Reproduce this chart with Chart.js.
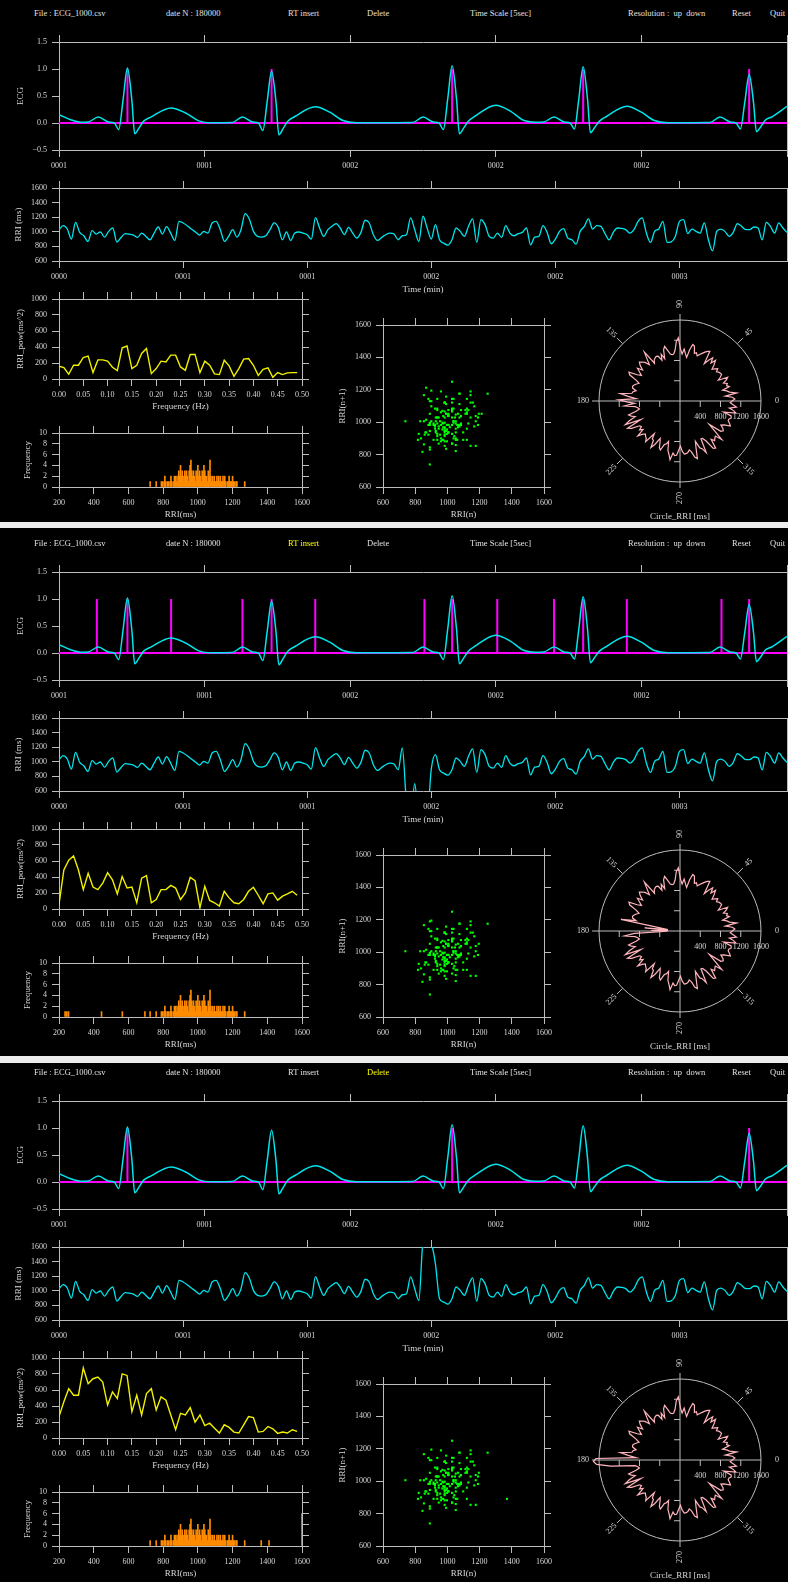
<!DOCTYPE html>
<html>
<head>
<meta charset="utf-8">
<script src="https://cdn.jsdelivr.net/npm/chart.js@4.4.1/dist/chart.umd.min.js"></script>
<style>
html, body { margin: 0; padding: 0; background: #000; }
body { width: 788px; height: 1582px; position: relative; overflow: hidden; font-family: 'Liberation Serif', serif; }
canvas { position: absolute; }
.band { position: absolute; left: 0; width: 788px; background: #ececec; }
.hdr { position: absolute; font-size: 8.5px; line-height: 10px; color: #e0e0e0; white-space: pre; }
</style>
</head>
<body>
<div class="band" style="top:522px;height:6px"></div>
<div class="band" style="top:1056px;height:7px"></div>
<script>
// ---- values ----
var headerItems = [['File : ECG_1000.csv', 34], ['date N : 180000', 166], ['RT insert', 288], ['Delete', 367],
  ['Time Scale [5sec]', 470], ['Resolution :  up  down', 628], ['Reset', 732], ['Quit', 770]];

var ecgTimeLabels = ['0001', '0001', '0002', '0002', '0002', ''];
var rriTimeLabels = ['0000', '0001', '0001', '0002', '0002', '0003'];

// ECG trace, 5 sec window (sec, mV)
var ecgTime = [0, 0.08, 0.15, 0.20, 0.27, 0.34, 0.38, 0.41, 0.44, 0.47, 0.50, 0.52, 0.55, 0.58, 0.63, 0.77, 0.87, 0.96, 1.05,
  1.19, 1.26, 1.33, 1.37, 1.40, 1.43, 1.46, 1.49, 1.51, 1.54, 1.57, 1.62, 1.76, 1.86, 1.95, 2.04,
  2.43, 2.50, 2.57, 2.61, 2.64, 2.67, 2.70, 2.73, 2.75, 2.78, 2.81, 2.86, 3.00, 3.10, 3.19, 3.27,
  3.33, 3.40, 3.47, 3.51, 3.54, 3.57, 3.60, 3.63, 3.65, 3.68, 3.71, 3.76, 3.90, 4.00, 4.09, 4.18,
  4.47, 4.54, 4.61, 4.65, 4.68, 4.71, 4.74, 4.77, 4.79, 4.82, 4.85, 4.90, 5.00];
var ecgValue = [0.155, 0.06, 0.015, 0.02, 0.11, 0.02, 0, -0.12, 0.43, 1.02, 0.43, -0.2, -0.09, 0.03, 0.11, 0.28, 0.185, 0.04, 0.005,
  0.01, 0.11, 0.02, 0, -0.14, 0.40, 0.96, 0.40, -0.22, -0.1, 0.03, 0.12, 0.30, 0.2, 0.045, 0.005,
  0.01, 0.11, 0.02, 0, -0.12, 0.45, 1.06, 0.45, -0.2, -0.09, 0.03, 0.13, 0.33, 0.22, 0.05, 0.015,
  0.02, 0.11, 0.02, 0, -0.11, 0.44, 1.04, 0.44, -0.18, -0.08, 0.03, 0.12, 0.31, 0.2, 0.045, 0.005,
  0.01, 0.11, 0.02, 0, -0.11, 0.38, 0.90, 0.38, -0.16, -0.07, 0.05, 0.12, 0.31];

// R markers (sec)
var rPeaksOriginal = [0.47, 1.46, 2.70, 3.60, 4.74];
var rPeaksInserted = [0.26, 0.47, 0.77, 1.26, 1.46, 1.76, 2.51, 2.70, 3.01, 3.40, 3.60, 3.90, 4.55, 4.74];
var rPeaksDeleted = [0.47, 2.70, 4.74];

// RR intervals (ms), one per beat
var rriOriginal = [
  1029, 1084, 1038, 900, 1130, 992, 946, 868, 1015, 969,
  997, 928, 1006, 1052, 859, 923, 974, 969, 955, 923,
  983, 937, 891, 983, 1066, 969, 1070, 983, 882, 1144,
  1121, 1084, 1038, 997, 955, 1006, 983, 1121, 1144, 1029,
  868, 937, 1029, 928, 1029, 1250, 1176, 1006, 937, 928,
  946, 1029, 1121, 1061, 891, 997, 882, 983, 997,
  983, 960, 900, 1195, 1052, 937, 1029, 1075, 1112, 1052,
  960, 1061, 983, 914, 992, 1158, 1121, 960, 882, 923,
  960, 983, 969, 891, 946, 960, 1190, 1029, 868, 1213,
  1052, 900, 1098, 891, 845, 817, 891, 1052, 1006, 937,
  1075, 1176, 854, 1167, 1098, 937, 914, 983, 923, 1084,
  983, 946, 974, 992, 1052, 822, 928, 937, 1084,
  992, 836, 900, 1006, 1043, 914, 891, 831, 1006, 1075,
  1176, 1038, 1084, 1075, 974, 891, 992, 1052, 1047, 1029,
  983, 1029, 1144, 1190, 983, 854, 1006, 1038, 1144, 854,
  863, 937, 1144, 1167, 974, 1038, 1006, 983, 1121, 891,
  739, 1006, 1038, 1006, 937, 992, 1112, 1075, 1029, 1029,
  1066, 1052, 891, 1130, 1075, 983, 1121, 1052, 992];
var insertAt = 83, insertValues = [1190, 445, 240, 700, 235, 565, 250];
var deleteAt = 88, deleteValues = [1660, 1710, 1650, 1370];

// power spectrum, 0.00 .. 0.49 Hz every 0.01 Hz
var psdStep = 0.01;
var psdOriginal = [160, 143, 59, 172, 172, 269, 286, 80, 239, 239, 223, 147, 105, 390, 412, 130, 172, 319, 382, 67,
  130, 223, 214, 298, 298, 151, 109, 307, 307, 80, 223, 172, 63, 55, 235, 164, 34, 130, 248, 256,
  172, 46, 122, 139, 21, 80, 55, 76, 80, 80];
var psdInserted = [57, 488, 611, 664, 488, 242, 447, 275, 242, 324, 455, 365, 189, 406, 262, 275, 78, 385, 418, 78,
  119, 242, 242, 295, 262, 119, 201, 394, 353, 16, 283, 107, 78, 37, 221, 139, 78, 66, 119, 221,
  271, 172, 66, 189, 201, 111, 160, 189, 221, 172];
var psdDeleted = [267, 453, 617, 535, 535, 876, 679, 741, 761, 700, 412, 576, 494, 802, 782, 329, 535, 288, 555, 617,
  350, 514, 473, 288, 103, 309, 288, 379, 198, 288, 156, 185, 123, 62, 165, 132, 74, 62, 165, 267,
  255, 74, 82, 144, 115, 58, 74, 62, 103, 82];

// RRI histogram, 5 ms bins starting at 725 ms
var histStart = 725, histWidth = 5;
var histCounts = [1, 0, 0, 0, 0, 0, 0, 1, 0, 0,
  0, 0, 0, 1, 1, 0, 1, 2, 1, 0,
  1, 1, 0, 1, 2, 1, 0, 1, 2, 2,
  1, 2, 1, 3, 2, 4, 2, 3, 2, 1,
  3, 2, 3, 2, 1, 3, 4, 5, 3, 2,
  3, 2, 1, 3, 2, 4, 2, 3, 2, 1,
  3, 2, 4, 3, 2, 2, 1, 3, 2, 5,
  2, 1, 2, 1, 2, 1, 1, 2, 1, 2,
  1, 2, 1, 1, 2, 1, 2, 1, 0, 1,
  1, 2, 1, 1, 1, 2, 1, 1, 0, 1,
  1, 0, 0, 0, 0, 0, 0, 0, 0, 1];
var histExtraInserted = [[235, 1], [245, 1], [255, 1], [445, 1], [565, 1], [695, 1]];
var histExtraDeleted = [[1365, 1], [1410, 1], [1600, 6]];

var polarAngleLabels = [0, 45, 90, 135, 180, 225, 270, 315];
var polarRadialTicks = [400, 800, 1200, 1600];

var panelTops = [0, 530, 1059];

// ---- drawing ----
var GRID = '#bcbcbc', TXT = '#d8d8d8', FONT = 'Liberation Serif';
var CYAN = '#00e6ee', MAGENTA = '#ff00ff', YELLOW = '#f0f000', ORANGE = '#ff8c00', GREEN = '#00ff00', PINK = '#ffb4bc';

function patch(base, at, values) {
  var out = base.slice();
  values.forEach(function (v, i) { out[at + i] = v; });
  return out;
}

var panels = [
  { rri: rriOriginal, psd: psdOriginal, peaks: rPeaksOriginal, extra: [], hl: -1 },
  { rri: patch(rriOriginal, insertAt, insertValues), psd: psdInserted, peaks: rPeaksInserted, extra: histExtraInserted, hl: 2 },
  { rri: patch(rriOriginal, deleteAt, deleteValues), psd: psdDeleted, peaks: rPeaksDeleted, extra: histExtraDeleted, hl: 3 }
];

function addCanvas(left, top, w, h) {
  var c = document.createElement('canvas');
  c.width = w; c.height = h;
  c.style.left = left + 'px'; c.style.top = top + 'px';
  c.style.width = w + 'px'; c.style.height = h + 'px';
  document.body.appendChild(c);
  return c;
}

function header(top, hl) {
  headerItems.forEach(function (item, i) {
    var d = document.createElement('div');
    d.className = 'hdr';
    d.textContent = item[0];
    d.style.left = item[1] + 'px';
    d.style.top = (top + 8) + 'px';
    d.style.color = i === hl ? '#ffff00' : '#e0e0e0';
    document.body.appendChild(d);
  });
}

function axisTitle(text, pad) {
  return { display: !!text, text: text || '', color: TXT, font: { family: FONT, size: 9, lineHeight: 1.2 }, padding: pad };
}

function axis(pos, size, a, ttl) {
  var horiz = pos === 'top' || pos === 'bottom';
  var main = pos === 'bottom' || pos === 'left';
  return {
    type: 'linear', position: pos, min: a.min, max: a.max, offset: false,
    grid: { drawOnChartArea: false, drawTicks: true, tickLength: 7, color: GRID, offset: false },
    border: { display: true, color: GRID },
    ticks: { display: main, stepSize: a.step, includeBounds: false, autoSkip: false, maxRotation: 0,
      padding: horiz ? 4 : 5, color: TXT, font: { family: FONT, size: 8 }, callback: a.cb || function (v) { return String(v); } },
    title: ttl || { display: false },
    afterFit: function (s) { if (horiz) s.height = size; else s.width = size; }
  };
}

function cartesian(top, box, type, datasets, xa, ya) {
  var W = box.r - box.l + box.ml + box.mr, H = box.b - box.t + box.mt + box.mb;
  var left = box.l - box.ml;
  var cv = addCanvas(left, top + box.t - box.mt, W, H);
  var xt = axisTitle(xa.title, { top: 0, bottom: box.b + box.mb - (xa.titleAt || 0) - 5.4 });
  var yt = axisTitle(ya.title, { top: (ya.titleAt || 0) - left - 5.4, bottom: 0 });
  return new Chart(cv, {
    type: type,
    data: { datasets: datasets },
    options: {
      responsive: false, animation: false, devicePixelRatio: 1, events: [],
      plugins: { legend: { display: false }, tooltip: { enabled: false } },
      scales: {
        x: axis('bottom', box.mb, xa, xt),
        x2: axis('top', box.mt, xa),
        y: axis('left', box.ml, ya, yt),
        y2: axis('right', box.mr, ya)
      }
    }
  });
}

function line(points, color, width, mode) {
  return { data: points, showLine: true, borderColor: color, borderWidth: width, pointRadius: 0,
    cubicInterpolationMode: mode || 'default', tension: 0, fill: false };
}

function markerPath(peaks) {
  var pts = [{ x: 0, y: 0 }];
  peaks.forEach(function (t) { pts.push({ x: t, y: 0 }, { x: t, y: 1 }, { x: t, y: 0 }); });
  pts.push({ x: 5, y: 0 });
  return pts;
}

function ecgFmt(v) { return (v < 0 ? '\u2212' : '') + Math.abs(v).toFixed(1); }

var polarFrame = {
  id: 'polarFrame',
  beforeDatasetsDraw: function (chart) {
    var s = chart.scales.r, ctx = chart.ctx;
    var cx = s.xCenter, cy = s.yCenter, R = s.getDistanceFromCenterForValue(1600);
    ctx.save();
    ctx.strokeStyle = GRID; ctx.lineWidth = 1;
    ctx.beginPath(); ctx.arc(cx, cy, R, 0, Math.PI * 2); ctx.stroke();
    ctx.beginPath();
    ctx.moveTo(cx - R - 7, cy); ctx.lineTo(cx + R, cy);
    ctx.moveTo(cx, cy - R - 6); ctx.lineTo(cx, cy + R + 6);
    [45, 135, 225, 315].forEach(function (a) {
      var r = a * Math.PI / 180;
      ctx.moveTo(cx + R * Math.cos(r), cy - R * Math.sin(r));
      ctx.lineTo(cx + (R + 8) * Math.cos(r), cy - (R + 8) * Math.sin(r));
    });
    [400, 800, 1200].forEach(function (v) {
      var d = s.getDistanceFromCenterForValue(v);
      ctx.moveTo(cx - 6, cy - d); ctx.lineTo(cx, cy - d);
      ctx.moveTo(cx - 6, cy + d); ctx.lineTo(cx, cy + d);
      ctx.moveTo(cx - d, cy); ctx.lineTo(cx - d, cy + 6);
      ctx.moveTo(cx + d, cy); ctx.lineTo(cx + d, cy + 6);
    });
    ctx.stroke();
    ctx.fillStyle = TXT; ctx.textAlign = 'center'; ctx.textBaseline = 'middle';
    ctx.font = '8px "' + FONT + '"';
    polarRadialTicks.forEach(function (v) {
      ctx.fillText(String(v), cx + s.getDistanceFromCenterForValue(v), cy + 16);
    });
    polarAngleLabels.forEach(function (a) {
      var rad = a * Math.PI / 180, d = R + 16;
      var rot = -a;
      while (rot < -90) rot += 180;
      while (rot >= 90) rot -= 180;
      ctx.save();
      ctx.translate(cx + d * Math.cos(rad), cy - d * Math.sin(rad));
      ctx.rotate(rot * Math.PI / 180);
      ctx.fillText(String(a), 0, 0);
      ctx.restore();
    });
    ctx.font = '9px "' + FONT + '"';
    ctx.fillText('Circle_RRI [ms]', cx, cy + 116);
    ctx.restore();
  }
};

panels.forEach(function (p, n) {
  var top = panelTops[n];
  var N = p.rri.length;
  header(top, p.hl);

  // ECG
  cartesian(top, { l: 59, t: 42, r: 787, b: 150, ml: 59, mt: 12, mr: 12, mb: 24 }, 'scatter', [
    line(ecgTime.map(function (t, i) { return { x: t, y: ecgValue[i] }; }), CYAN, 1.5, 'monotone'),
    line(markerPath(p.peaks), MAGENTA, 2)
  ], { min: 0, max: 5, step: 1, cb: function (v, i) { return ecgTimeLabels[i]; } },
     { min: -0.5, max: 1.5, step: 0.5, cb: ecgFmt, title: 'ECG', titleAt: 21 });

  // RRI tachogram
  cartesian(top, { l: 59, t: 188, r: 787, b: 261, ml: 59, mt: 12, mr: 12, mb: 36 }, 'scatter', [
    line(p.rri.map(function (v, i) { return { x: i / 60, y: v }; }), CYAN, 1.3, 'monotone')
  ], { min: 0, max: (N - 1) / 60, step: 0.5, cb: function (v, i) { return rriTimeLabels[i]; }, title: 'Time (min)', titleAt: 290 },
     { min: 600, max: 1600, step: 200, title: 'RRI (ms)', titleAt: 19 });

  // power spectrum
  cartesian(top, { l: 59, t: 299, r: 302, b: 379, ml: 59, mt: 12, mr: 12, mb: 34 }, 'scatter', [
    line(p.psd.map(function (v, i) { return { x: i * psdStep, y: v }; }), YELLOW, 1.4)
  ], { min: 0, max: 0.5, step: 0.05, cb: function (v) { return v.toFixed(2); }, title: 'Frequency (Hz)', titleAt: 407 },
     { min: 0, max: 1000, step: 200, title: 'RRI_pow(ms^2)', titleAt: 21 });

  // histogram
  var bars = [];
  histCounts.forEach(function (c, i) { if (c > 0) bars.push({ x: histStart + i * histWidth, y: c }); });
  p.extra.forEach(function (e) { bars.push({ x: e[0], y: e[1] }); });
  cartesian(top, { l: 59, t: 433, r: 302, b: 487, ml: 59, mt: 12, mr: 12, mb: 33 }, 'bar', [
    { data: bars, backgroundColor: ORANGE, borderWidth: 0, barThickness: 1 }
  ], { min: 200, max: 1600, step: 200, title: 'RRI(ms)', titleAt: 515 },
     { min: 0, max: 10, step: 2, title: 'Frequency', titleAt: 28 });

  // Poincare plot
  var pairs = [];
  for (var i = 0; i + 1 < N; i++) pairs.push({ x: p.rri[i], y: p.rri[i + 1] });
  cartesian(top, { l: 383, t: 325, r: 544, b: 487, ml: 50, mt: 12, mr: 12, mb: 33 }, 'scatter', [
    { data: pairs, backgroundColor: GREEN, borderWidth: 0, pointRadius: 1.5, pointStyle: 'rect' }
  ], { min: 600, max: 1600, step: 200, title: 'RRI(n)', titleAt: 515 },
     { min: 600, max: 1600, step: 200, title: 'RRI(n+1)', titleAt: 343 });

  // circular RRI: beat index runs counter-clockwise from 0 deg
  var cv = addCanvas(560, top + 281, 240, 240);
  new Chart(cv, {
    type: 'radar',
    data: {
      labels: p.rri.map(function () { return ''; }),
      datasets: [{ data: p.rri.map(function (v, m) { return p.rri[(N - m) % N]; }),
        borderColor: PINK, borderWidth: 1.2, pointRadius: 0, fill: false, clip: false, tension: 0 }]
    },
    options: {
      responsive: false, animation: false, devicePixelRatio: 1, events: [],
      layout: { padding: 39 },
      plugins: { legend: { display: false }, tooltip: { enabled: false } },
      scales: { r: { min: 0, max: 1600, startAngle: 90,
        grid: { display: false }, angleLines: { display: false },
        pointLabels: { display: false }, ticks: { display: false } } }
    },
    plugins: [polarFrame]
  });
});
</script>
</body>
</html>
